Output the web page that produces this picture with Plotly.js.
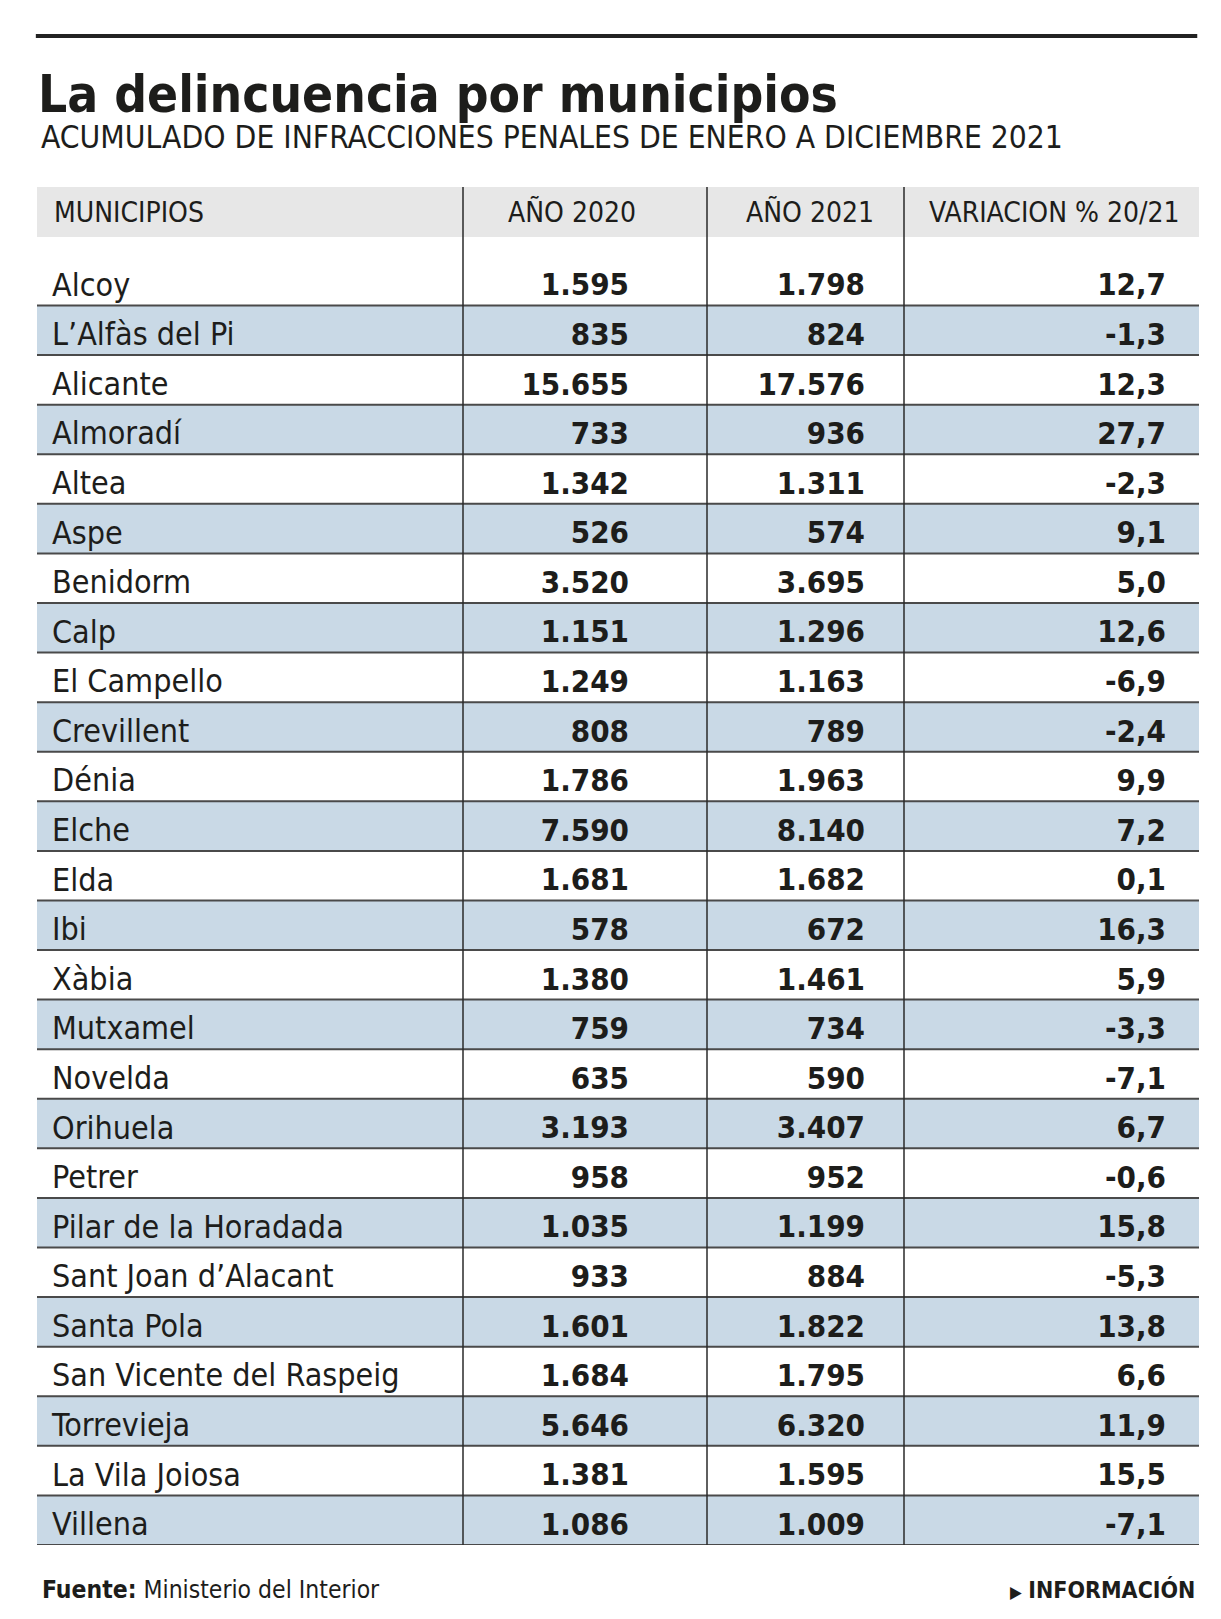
<!DOCTYPE html>
<html>
<head>
<meta charset="utf-8">
<script src="https://cdn.plot.ly/plotly-3.0.1.min.js"></script>
<style>
html,body{margin:0;padding:0;background:#fff;}
#chart{width:1221px;height:1619px;}
</style>
</head>
<body>
<div id="chart"></div>
<script>
// ---- data ----
const municipios = ["Alcoy","L’Alfàs del Pi","Alicante","Almoradí","Altea","Aspe","Benidorm","Calp","El Campello","Crevillent","Dénia","Elche","Elda","Ibi","Xàbia","Mutxamel","Novelda","Orihuela","Petrer","Pilar de la Horadada","Sant Joan d’Alacant","Santa Pola","San Vicente del Raspeig","Torrevieja","La Vila Joiosa","Villena"];
const anio2020 = [1595,835,15655,733,1342,526,3520,1151,1249,808,1786,7590,1681,578,1380,759,635,3193,958,1035,933,1601,1684,5646,1381,1086];
const anio2021 = [1798,824,17576,936,1311,574,3695,1296,1163,789,1963,8140,1682,672,1461,734,590,3407,952,1199,884,1822,1795,6320,1595,1009];
const variacion = [12.7,-1.3,12.3,27.7,-2.3,9.1,5.0,12.6,-6.9,-2.4,9.9,7.2,0.1,16.3,5.9,-3.3,-7.1,6.7,-0.6,15.8,-5.3,13.8,6.6,11.9,15.5,-7.1];
const headers = ["MUNICIPIOS","AÑO 2020","AÑO 2021","VARIACION % 20/21"];

// ---- layout constants (pixels) ----
const W = 1221, H = 1619;
const ML = 37, MR = 22, MT = 187, MB = 74;
const PW = W - ML - MR, PH = H - MT - MB;
const ROW = 49.58;
const yTop = 25.5 - PH / ROW;
const TEXT_SHIFT = 0.14; // text sits a little low in each row
const colName = 15, col2020 = 592, col2021 = 828, colVar = 1129;
const dividers = [426, 670, 867];
const NARROW = "'DejaVu Sans Condensed', 'Liberation Sans Narrow', 'Arial Narrow', sans-serif";
const INK = "#1d1d1b";
const py = px => (H - MB - px) / PH; // page y -> paper y

const stripeY = municipios.filter((_, i) => i % 2 === 1);

const txt = (x, extra) => Object.assign({
  type: "scatter", mode: "text", x: municipios.map(() => x), y: municipios, yaxis: "y2",
  hoverinfo: "skip", showlegend: false, cliponaxis: false
}, extra);

const traces = [
  {
    type: "bar", orientation: "h",
    y: stripeY, x: stripeY.map(() => PW + 100), base: -50, width: 1,
    marker: {color: "#c9d9e6", line: {color: "#4a4a4a", width: 2}},
    hoverinfo: "skip", showlegend: false
  },
  txt(colName, {text: municipios, textposition: "middle right",
    textfont: {family: NARROW, size: 32, color: INK}}),
  txt(col2020, {customdata: anio2020, texttemplate: "<b>%{customdata:,.0f}</b>", textposition: "middle left",
    textfont: {family: NARROW, size: 31, color: INK}}),
  txt(col2021, {customdata: anio2021, texttemplate: "<b>%{customdata:,.0f}</b>", textposition: "middle left",
    textfont: {family: NARROW, size: 31, color: INK}}),
  txt(colVar, {customdata: variacion, texttemplate: "<b>%{customdata:.1f}</b>", textposition: "middle left",
    textfont: {family: NARROW, size: 31, color: INK}})
];

const shapes = [
  // header band
  {type: "rect", xref: "paper", yref: "paper", x0: 0, x1: 1, y0: py(237), y1: py(187),
   fillcolor: "#e7e7e7", line: {width: 0}, layer: "below"},
  // top rule
  {type: "line", xref: "paper", yref: "paper", x0: -0.001, x1: 0.9985, y0: py(36), y1: py(36),
   line: {color: "#222", width: 4}}
];
dividers.forEach(d => shapes.push({
  type: "line", xref: "x", yref: "paper", x0: d, x1: d, y0: 0, y1: 1,
  line: {color: "#2a2a2a", width: 1.5}, layer: "above"
}));

const headerX = [colName, 601, 839, 1145];
const annotations = headers.map((h, i) => ({
  xref: "x", yref: "paper", x: headerX[i], y: py(212),
  xanchor: i === 0 ? "left" : "right", yanchor: "middle",
  text: h, showarrow: false, font: {family: NARROW, size: 28, color: INK}
}));
annotations.push({
  xref: "x", yref: "paper", x: 2, y: py(137), xanchor: "left", yanchor: "middle",
  text: "ACUMULADO DE INFRACCIONES PENALES DE ENERO A DICIEMBRE 2021", showarrow: false,
  font: {family: NARROW, size: 31.5, color: INK}
});
annotations.push({
  xref: "x", yref: "paper", x: 3, y: py(1589), xanchor: "left", yanchor: "middle",
  text: "<b>Fuente:</b> Ministerio del Interior", showarrow: false,
  font: {family: NARROW, size: 24.5, color: INK}
});
annotations.push({
  xref: "x", yref: "paper", x: PW - 2, y: py(1589), xanchor: "right", yanchor: "middle",
  text: "<span style='font-size:17px'>▶</span> <b>INFORMACIÓN</b>", showarrow: false,
  font: {family: NARROW, size: 23, color: INK}
});

const layout = {
  width: W, height: H,
  margin: {l: ML, r: MR, t: MT, b: MB, pad: 0},
  paper_bgcolor: "#fff", plot_bgcolor: "rgba(0,0,0,0)",
  separators: ",.",
  title: {
    text: "<b>La delincuencia por municipios</b>",
    font: {family: NARROW, size: 51, color: INK},
    xref: "container", x: 38 / W, xanchor: "left",
    yref: "container", y: 1 - 94 / H, yanchor: "middle"
  },
  xaxis: {range: [0, PW], visible: false, fixedrange: true},
  yaxis: {type: "category", categoryorder: "array", categoryarray: municipios,
          range: [25.5, yTop], visible: false, fixedrange: true},
  yaxis2: {type: "category", categoryorder: "array", categoryarray: municipios, overlaying: "y",
          range: [25.5 - TEXT_SHIFT, yTop - TEXT_SHIFT], visible: false, fixedrange: true},
  shapes: shapes,
  annotations: annotations,
  showlegend: false
};

Plotly.newPlot("chart", traces, layout, {displayModeBar: false, staticPlot: true});
</script>
</body>
</html>
